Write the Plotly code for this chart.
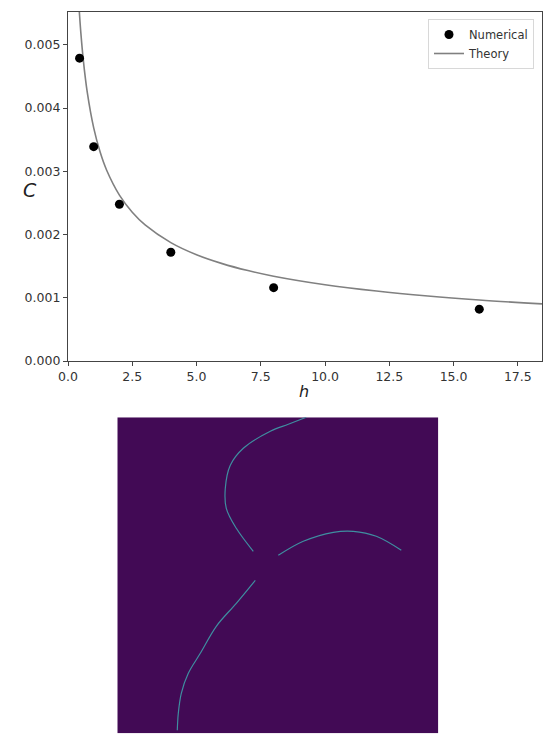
import plotly.graph_objects as go

# ---- top panel data ----
h_num = [0.45, 1, 2, 4, 8, 16]
c_num = [0.00479, 0.00339, 0.00248, 0.00172, 0.00116, 0.00082]

h_theory = [0.42, 0.45, 0.5, 0.6, 0.75, 1.0, 1.25, 1.5, 2.0, 2.5, 3.0, 4.0, 5.0, 6.0, 7.0, 8.0,
            10.0, 12.0, 14.0, 16.0, 18.44]
c_theory = [0.005658, 0.005468, 0.005190, 0.004743, 0.004248, 0.003687, 0.003304, 0.003021,
            0.002624, 0.002353, 0.002153, 0.001873, 0.001681, 0.001540, 0.001430, 0.001341,
            0.001206, 0.001106, 0.001028, 0.000965, 0.000903]

x_ticks = [0, 2.5, 5, 7.5, 10, 12.5, 15, 17.5]
y_ticks = [0, 0.001, 0.002, 0.003, 0.004, 0.005]

# ---- bottom panel (image pixel coordinates) ----
img_w = 321
img_h = 316
curve1_x = [189, 171, 153, 126, 113, 108, 109, 119, 136]
curve1_y = [0, 7, 14, 31, 48, 71, 91, 111, 134]
curve2_x = [161, 186, 216, 236, 259, 284]
curve2_y = [138, 124, 115, 114, 119, 133]
curve3_x = [138, 119, 99, 83, 71, 64, 61, 60]
curve3_y = [163, 186, 209, 236, 256, 276, 296, 313]

# page is 556x743; the html body has an 8px margin
OFF = 8
W, H = 556 - 2 * OFF, 743 - 2 * OFF


def px(x):
    return (x - OFF) / W


def py(y):
    return 1 - (y - OFF) / H


fig = go.Figure()

fig.add_trace(go.Scatter(x=h_theory, y=c_theory, mode="lines", name="Theory",
                         line=dict(color="#808080", width=1.6, shape="spline"),
                         xaxis="x", yaxis="y"))
fig.add_trace(go.Scatter(x=h_num, y=c_num, mode="markers", name="Numerical",
                         marker=dict(color="black", size=9),
                         xaxis="x", yaxis="y"))

# background image cell
fig.add_trace(go.Heatmap(z=[[0]], x=[0, img_w], y=[0, img_h],
                         colorscale=[[0, "#420a55"], [1, "#420a55"]],
                         showscale=False, hoverinfo="skip",
                         xaxis="x2", yaxis="y2"))
for cx, cy in [(curve1_x, curve1_y), (curve2_x, curve2_y), (curve3_x, curve3_y)]:
    fig.add_trace(go.Scatter(x=cx, y=cy, mode="lines", showlegend=False,
                             line=dict(color="#3f8ea0", width=1.2, shape="spline"),
                             xaxis="x2", yaxis="y2"))

axis_common = dict(showline=True, linecolor="#444", linewidth=1.2, mirror=True,
                   ticks="outside", ticklen=4, tickcolor="#444", showgrid=False,
                   zeroline=False, automargin=False,
                   tickfont=dict(family="DejaVu Sans", size=12.5, color="#333"))

fig.update_layout(
    width=W, height=H,
    margin=dict(l=0, r=0, t=0, b=0),
    paper_bgcolor="white", plot_bgcolor="white",
    font=dict(family="DejaVu Sans", color="#333"),
    xaxis=dict(domain=[px(68), px(542)], range=[0, 18.44], tickvals=x_ticks,
               tickformat=".1f", anchor="y", **axis_common),
    yaxis=dict(domain=[py(361), py(12)], range=[0, 0.00552], tickvals=y_ticks,
               tickformat=".3f", anchor="x", **axis_common),
    xaxis2=dict(domain=[px(117.3), px(438.3)], range=[0, img_w], visible=False, anchor="y2"),
    yaxis2=dict(domain=[py(733.3), py(417.3)], range=[img_h, 0], visible=False, anchor="x2"),
    legend=dict(x=px(534), y=py(19), xanchor="right", yanchor="top",
                bgcolor="white", bordercolor="#d8d8d8", borderwidth=1,
                font=dict(family="DejaVu Sans", size=11.5, color="#333"),
                traceorder="reversed", itemwidth=30, tracegroupgap=0),
    showlegend=True,
    annotations=[
        dict(text="<i>C</i>", x=px(21), y=py(177), xref="paper", yref="paper",
             showarrow=False, font=dict(family="DejaVu Sans", size=19, color="#222")),
        dict(text="<i>h</i>", x=px(304), y=py(392), xref="paper", yref="paper",
             showarrow=False, font=dict(family="DejaVu Sans", size=16, color="#222")),
    ],
)

fig.write_html("out.html")
